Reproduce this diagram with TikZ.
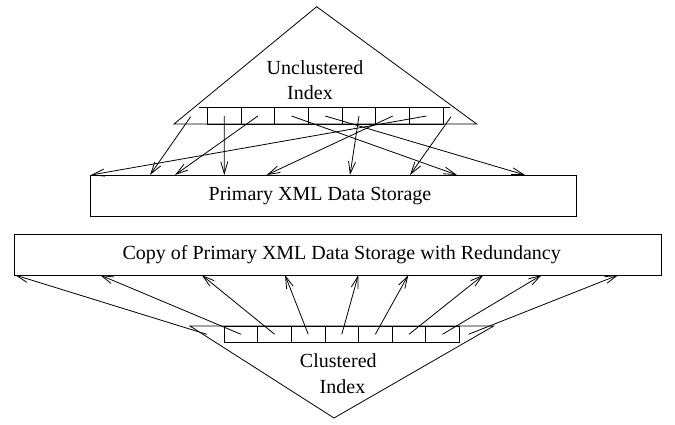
\documentclass[tikz,border=0pt]{standalone}
\usepackage{fontspec}
\setmainfont{Liberation Serif}
\usetikzlibrary{arrows.meta}
\begin{document}
\begin{tikzpicture}[x=1pt,y=-1pt,line width=0.8pt,
  arr/.style={-{Straight Barb[length=12pt,width=7pt,line width=0.8pt]}},
  cell/.style={draw, rectangle, inner sep=0pt, outer sep=0pt},
  box/.style={draw, rectangle, inner sep=0pt, outer sep=0pt},
  txt/.style={font=\fontsize{20}{24}\selectfont, anchor=base, inner sep=0pt}]
\useasboundingbox (0,0) rectangle (675,424);

% top (unclustered) index triangle
\coordinate (ul) at (174,124);
\coordinate (utop) at (316.7,6.7);
\coordinate (ur) at (476.7,124);
\draw (ul) -- (utop) -- (ur) -- cycle;
\coordinate (ubl) at (199.3,107.85);
\coordinate (ubr) at (450,107.85);
\draw (ubl) -- (ubr);
\foreach \i in {1,...,7}
  \node[cell, minimum width=33.71pt, minimum height=16.3pt] (u\i) at ({207.3+33.71*(\i-0.5)},116) {};

% bottom (clustered) index triangle
\coordinate (cl) at (190,326);
\coordinate (cbot) at (334,418);
\coordinate (cr) at (493.7,326);
\draw (cl) -- (cbot) -- (cr) -- cycle;
\foreach \i in {1,...,7}
  \node[cell, minimum width=33.57pt, minimum height=16.6pt] (c\i) at ({224.3+33.57*(\i-0.5)},334.3) {};

% storage boxes
\node[box, minimum width=486.7pt, minimum height=41pt] (prim) at (333.3,195.5) {};
\node[box, minimum width=647pt, minimum height=41pt] (copy) at (337.5,254.5) {};

% texts
\node[txt] (t1) at (315,74) {Unclustered};
\node[txt] (t2) at (310,99) {Index};
\node[txt] (t3) at (320,200) {Primary XML Data Storage};
\node[txt] (t4) at (341.7,259.3) {Copy of Primary XML Data Storage with Redundancy};
\node[txt] (t5) at (338.3,367.3) {Clustered};
\node[txt] (t6) at (342.5,393.3) {Index};

% top arrows
\coordinate (ua) at (190.7,116.7);
\coordinate (ub) at (451,116.7);
\coordinate (pa) at (150,175);
\coordinate (p1) at (224.3,175);
\coordinate (p2) at (175,175);
\coordinate (p3) at (457,175);
\coordinate (p4) at (525,175);
\coordinate (p5) at (350,175);
\coordinate (p6) at (266.7,175);
\coordinate (p7) at (91,175);
\coordinate (pb) at (410,175);
\draw[arr] (ua) -- (pa);
\foreach \i in {1,...,7} \draw[arr] (u\i.center) -- (p\i);
\draw[arr] (ub) -- (pb);

% bottom arrows
\coordinate (ca) at (206.7,334.3);
\coordinate (cb) at (468.5,334.3);
\coordinate (qa) at (15,275);
\coordinate (q1) at (100,275);
\coordinate (q2) at (201.7,275);
\coordinate (q3) at (285,275);
\coordinate (q4) at (358.3,275);
\coordinate (q5) at (408.3,275);
\coordinate (q6) at (483.3,275);
\coordinate (q7) at (541.7,275);
\coordinate (qb) at (618.3,275);
\draw[arr] (ca) -- (qa);
\foreach \i in {1,...,7} \draw[arr] (c\i.center) -- (q\i);
\draw[arr] (cb) -- (qb);
\end{tikzpicture}
\end{document}
